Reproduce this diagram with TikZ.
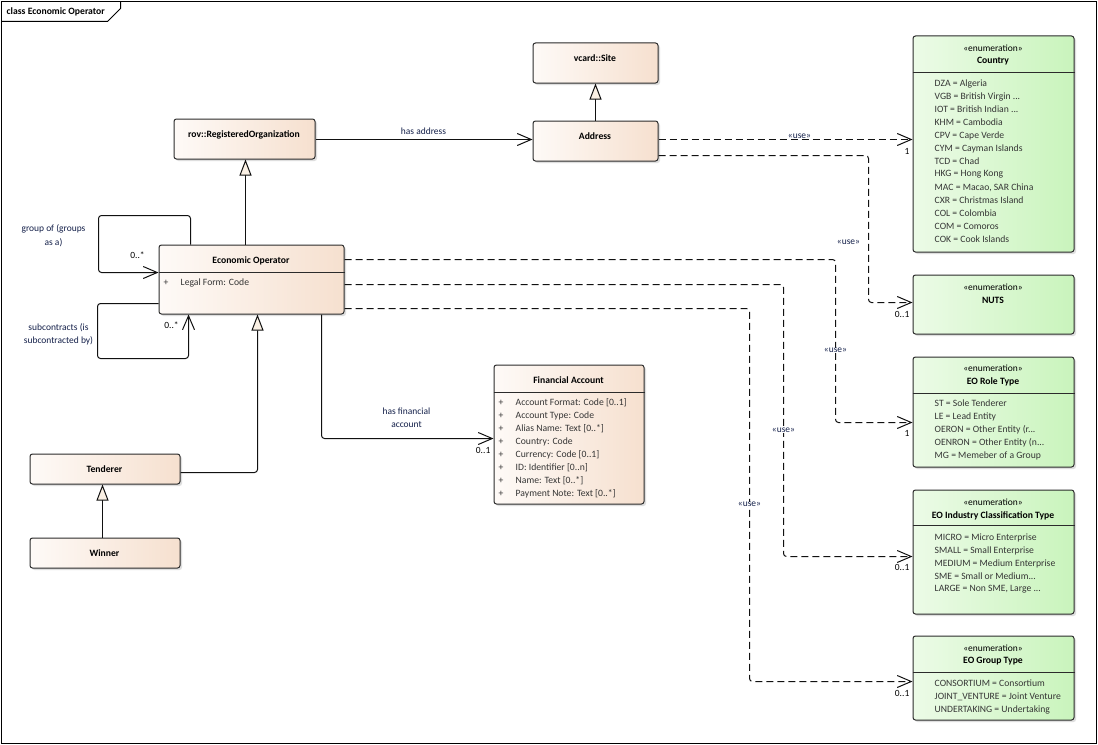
\documentclass[tikz,border=0pt]{standalone}
\usepackage{fontspec}
\setmainfont{Carlito}
\usetikzlibrary{arrows.meta,shadows}
\definecolor{clsL}{HTML}{FEFAF7}
\definecolor{clsR}{HTML}{F6E0CF}
\definecolor{enL}{HTML}{ECFBE7}
\definecolor{enR}{HTML}{C9F4BC}
\definecolor{boxline}{HTML}{2B2B2B}
\definecolor{lineC}{HTML}{111111}
\definecolor{genF}{HTML}{FAF0E4}
\definecolor{lbl}{HTML}{14204A}
\definecolor{attrC}{HTML}{353535}
\newcommand{\eodots}{.{}.{}.}
\tikzset{
  boxbase/.style={draw=boxline, line width=1bp, rounded corners=2.5bp, anchor=north west, inner sep=0pt,
    drop shadow={shadow xshift=2bp, shadow yshift=-2bp, fill=black!25, opacity=0.5}},
  cls/.style={boxbase, left color=clsL, right color=clsR},
  enm/.style={boxbase, left color=enL, right color=enR, minimum width=161bp},
  ttl/.style={font=\fontsize{9.7}{11}\selectfont\bfseries, text=black, inner sep=0pt},
  stereo/.style={font=\fontsize{9.5}{11}\selectfont, text=black, inner sep=0pt},
  attr/.style={font=\fontsize{9.7}{11}\selectfont, text=attrC, anchor=west, inner sep=0pt},
  lab/.style={font=\fontsize{9.5}{13.5}\selectfont, text=lbl, inner sep=0.6pt, align=center},
  mult/.style={font=\fontsize{9.5}{11}\selectfont, text=black, inner sep=0pt},
  divider/.style={draw=boxline, line width=1bp},
  assoc/.style={draw=lineC, line width=1bp, rounded corners=3bp, -{Straight Barb[length=14bp,width=12bp,line width=1bp]}},
  gen/.style={draw=lineC, line width=1bp, rounded corners=3bp, -{Triangle[length=16bp,width=12bp,fill=genF,line width=1bp]}},
  dep/.style={assoc, dash pattern=on 7bp off 4bp}
}
\begin{document}
\begin{tikzpicture}[x=1bp,y=-1bp]
\useasboundingbox (0,0) rectangle (1098,745);
\fill[white] (0,0) rectangle (1098,745);
\begin{scope}[shift={(0.5,0.5)}]
% frame
\draw[line width=1.2bp, draw=black] (1,1) rectangle (1096,743);
\draw[line width=1bp] (1,21) -- (107,21) -- (120,8) -- (120,1);
\node[ttl, anchor=west] (frameT) at (6,11) {class Economic Operator};

% class boxes
\node[cls, minimum width=125bp, minimum height=40bp] (site) at (532,42) {};
\node[cls, minimum width=125bp, minimum height=40bp] (addr) at (532,120) {};
\node[cls, minimum width=141bp, minimum height=40bp] (rov) at (173,118) {};
\node[cls, minimum width=185bp, minimum height=69bp] (eo) at (158,244) {};
\node[cls, minimum width=150bp, minimum height=30bp] (tend) at (29,453) {};
\node[cls, minimum width=150bp, minimum height=30bp] (win) at (29,537) {};
\node[cls, minimum width=150bp, minimum height=139bp] (fin) at (493,364) {};

% enumeration boxes
\node[enm, minimum height=216bp] (country) at (912,35) {};
\node[enm, minimum height=59bp] (nuts) at (912,274) {};
\node[enm, minimum height=110bp] (role) at (912,356) {};
\node[enm, minimum height=124bp] (industry) at (912,489) {};
\node[enm, minimum height=84bp] (group) at (912,635) {};

% class titles
\node[ttl] (siteN) at (594.5,58) {vcard::Site};
\node[ttl] (addrN) at (594.5,136) {Address};
\node[ttl] (rovN) at (243.5,134) {rov::RegisteredOrganization};
\node[ttl] (eoN) at (250.5,260) {Economic Operator};
\node[ttl] (tendN) at (104,469) {Tenderer};
\node[ttl] (winN) at (104,553) {Winner};
\node[ttl] (finN) at (568,380) {Financial Account};

% EO attribute
\draw[divider] (eo.west |- 0,272) -- (eo.east |- 0,272);
\node[attr] (eoP) at (163,282) {+};
\node[attr] (eoA) at (180,282) {Legal Form: Code};

% Financial Account attributes
\draw[divider] (fin.west |- 0,392) -- (fin.east |- 0,392);
\foreach \t [count=\i from 0] in {Account Format: Code [0..1], Account Type: Code, Alias Name: Text [0..*], Country: Code, Currency: Code [0..1], ID: Identifier [0..n], Name: Text [0..*], Payment Note: Text [0..*]}{
  \node[attr] (finP\i) at (498,402+13*\i) {+};
  \node[attr] (finA\i) at (515,402+13*\i) {\t};
}

% Country
\node[stereo] (countryS) at (992.5,48) {«enumeration»};
\node[ttl] (countryN) at (992.5,61) {Country};
\draw[divider] (country.west |- 0,72) -- (country.east |- 0,72);
\foreach \t [count=\i from 0] in {DZA = Algeria, VGB = British Virgin \eodots, IOT = British Indian \eodots, KHM = Cambodia, CPV = Cape Verde, CYM = Cayman Islands, TCD = Chad, HKG = Hong Kong, {MAC = Macao, SAR China}, CXR = Christmas Island, COL = Colombia, COM = Comoros, COK = Cook Islands}{
  \node[attr] (ctry\i) at (934,83+13*\i) {\t};
}

% NUTS
\node[stereo] (nutsS) at (992.5,287) {«enumeration»};
\node[ttl] (nutsN) at (992.5,300) {NUTS};

% EO Role Type
\node[stereo] (roleS) at (992.5,368) {«enumeration»};
\node[ttl] (roleN) at (992.5,381) {EO Role Type};
\draw[divider] (role.west |- 0,393) -- (role.east |- 0,393);
\foreach \t [count=\i from 0] in {ST = Sole Tenderer, LE = Lead Entity, OERON = Other Entity (r\eodots, OENRON = Other Entity (n\eodots, MG = Memeber of a Group}{
  \node[attr] (roleI\i) at (934,403+13*\i) {\t};
}

% EO Industry Classification Type
\node[stereo] (indS) at (992.5,502) {«enumeration»};
\node[ttl] (indN) at (992.5,515) {EO Industry Classification Type};
\draw[divider] (industry.west |- 0,525) -- (industry.east |- 0,525);
\foreach \t [count=\i from 0] in {MICRO = Micro Enterprise, SMALL = Small Enterprise, MEDIUM = Medium Enterprise, SME = Small or Medium\eodots, {LARGE = Non SME, Large \eodots}}{
  \node[attr] (indI\i) at (934,537+13*\i) {\t};
}

% EO Group Type
\node[stereo] (grpS) at (992.5,648) {«enumeration»};
\node[ttl] (grpN) at (992.5,661) {EO Group Type};
\draw[divider] (group.west |- 0,672) -- (group.east |- 0,672);
\foreach \t [count=\i from 0] in {CONSORTIUM = Consortium, JOINT\_VENTURE = Joint Venture, UNDERTAKING = Undertaking}{
  \node[attr] (grpI\i) at (934,683+13*\i) {\t};
}

% generalizations
\draw[gen] (addr.north -| 595,0) -- (site.south -| 595,0);
\draw[gen] (eo.north -| 245,0) -- (rov.south -| 245,0);
\draw[gen] (tend.east |- 0,472) -- (257,472) -- (eo.south -| 257,0);
\draw[gen] (win.north -| 102,0) -- (tend.south -| 102,0);

% associations
\draw[assoc] (rov.east |- 0,139) -- (addr.west |- 0,139);
\node[lab] (hasAddr) at (423,131) {has address};

\draw[assoc] (eo.north -| 190,0) -- (190,215) -- (98,215) -- (98,272) -- (eo.west |- 0,272);
\node[lab] (grpL) at (53,235) {group of (groups\\as a)};
\node[mult] (grpM) at (137,255) {0..*};

\draw[assoc] (eo.west |- 0,303) -- (97,303) -- (97,358) -- (188,358) -- (eo.south -| 188,0);
\node[lab] (subL) at (58,334) {subcontracts (is\\subcontracted by)};
\node[mult] (subM) at (171,325) {0..*};

\draw[assoc] (eo.south -| 321,0) -- (321,438) -- (fin.west |- 0,438);
\node[lab] (finL) at (406,417) {has financial\\account};
\node[mult, anchor=east] (finM) at (490,450) {0..1};

% dependencies
\draw[dep] (addr.east |- 0,139) -- (country.west |- 0,139);
\node[lab, fill=white] (use1) at (799,136) {«use»};
\node[mult, anchor=east] (m1) at (909,151) {1};

\draw[dep] (addr.east |- 0,155) -- (868,155) -- (868,302) -- (nuts.west |- 0,302);
\node[lab] (use2) at (848,242) {«use»};
\node[mult, anchor=east] (m2) at (909,314) {0..1};

\draw[dep] (eo.east |- 0,259) -- (835,259) -- (835,422) -- (role.west |- 0,422);
\node[lab, fill=white] (use3) at (835,350) {«use»};
\node[mult, anchor=east] (m3) at (909,433) {1};

\draw[dep] (eo.east |- 0,284) -- (783,284) -- (783,556) -- (industry.west |- 0,556);
\node[lab, fill=white] (use4) at (783,430) {«use»};
\node[mult, anchor=east] (m4) at (909,567) {0..1};

\draw[dep] (eo.east |- 0,308) -- (749,308) -- (749,681) -- (group.west |- 0,681);
\node[lab, fill=white] (use5) at (749,504) {«use»};
\node[mult, anchor=east] (m5) at (909,693) {0..1};
\end{scope}
\end{tikzpicture}
\end{document}
